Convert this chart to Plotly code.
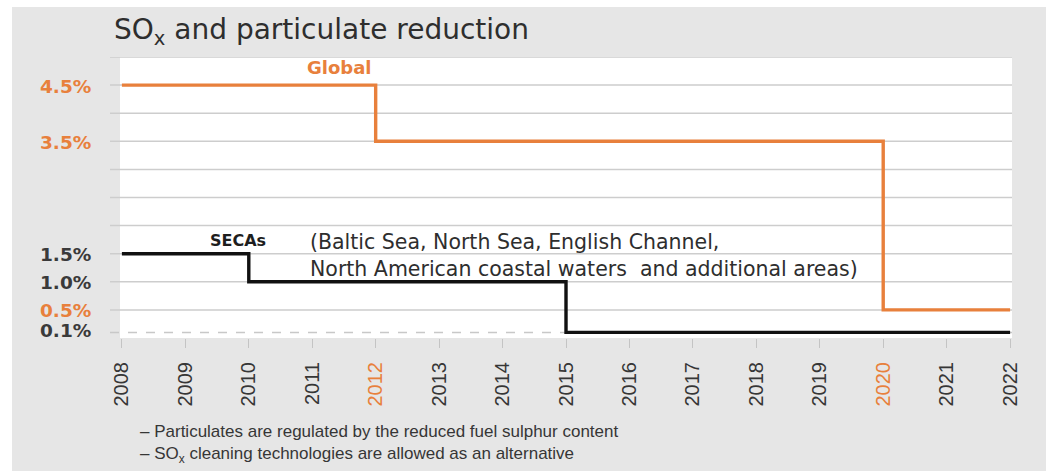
import plotly.graph_objects as go

# Sulphur limits in marine fuel (% m/m)
global_years = [2008, 2012, 2020, 2022]
global_limits = [4.5, 3.5, 0.5, 0.5]
seca_years = [2008, 2010, 2015, 2022]
seca_limits = [1.5, 1.0, 0.1, 0.1]

year_ticks = list(range(2008, 2023))
highlight_years = [2012, 2020]
grid_levels = [0.5, 1.0, 1.5, 2.0, 2.5, 3.0, 3.5, 4.0, 4.5, 5.0]
label_levels = [4.5, 3.5, 1.5, 1.0, 0.5, 0.1]
label_texts = ["4.5%", "3.5%", "1.5%", "1.0%", "0.5%", "0.1%"]
orange_levels = [4.5, 3.5, 0.5]

ORANGE = "#e8803c"
DARK = "#1e1e1e"
GREY_TXT = "#363636"
W, H = 1053, 474
L, R, T, B = 120, 41, 57, 136
PW, PH = W - L - R, H - T - B


def px(x):
    return (x - L) / PW


def py(y):
    return (H - B - y) / PH


fig = go.Figure()

fig.add_trace(go.Scatter(
    x=seca_years, y=seca_limits, mode="lines", line_shape="hv",
    line=dict(color="#111111", width=3.4), hoverinfo="skip", showlegend=False))
fig.add_trace(go.Scatter(
    x=global_years, y=global_limits, mode="lines", line_shape="hv",
    line=dict(color=ORANGE, width=3.4), hoverinfo="skip", showlegend=False))

# grey card behind everything, white plotting field on top of it
shapes = [
    dict(type="rect", xref="paper", yref="paper", x0=px(12), x1=px(1046),
         y0=py(471), y1=py(7), fillcolor="#e6e6e6", line_width=0, layer="below"),
    dict(type="rect", xref="paper", yref="paper", x0=0, x1=1, y0=0, y1=1,
         fillcolor="white", line_width=0, layer="below"),
]
for g in grid_levels:
    shapes.append(dict(type="line", xref="paper", yref="y", x0=px(110), x1=1,
                       y0=g, y1=g, line=dict(color="#cdcdcd", width=1.5), layer="below"))
shapes.append(dict(type="line", xref="paper", yref="y", x0=px(110), x1=1,
                   y0=0.1, y1=0.1, line=dict(color="#c8c8c8", width=1.5, dash="dash"),
                   layer="below"))

annotations = []
for v, t in zip(label_levels, label_texts):
    annotations.append(dict(
        xref="paper", yref="y", x=px(93), y=v, xanchor="right", yanchor="middle",
        yshift=-1 if v != 0.1 else 2,
        text=f"<b>{t}</b>", showarrow=False,
        font=dict(family="DejaVu Sans", size=18.5,
                  color=ORANGE if v in orange_levels else "#3a3a3a")))

annotations += [
    dict(xref="paper", yref="paper", x=px(112), y=py(31), xanchor="left", yanchor="middle",
         text="SO<sub>x</sub> and particulate reduction", showarrow=False,
         font=dict(family="DejaVu Sans", size=28, color="#2e2e2e")),
    dict(xref="x", yref="y", x=2012, y=4.5, xanchor="right", yanchor="bottom",
         xshift=-2, yshift=5, text="<b>Global</b>", showarrow=False,
         font=dict(family="DejaVu Sans", size=18, color=ORANGE)),
    dict(xref="x", yref="y", x=2009.35, y=1.5, xanchor="left", yanchor="bottom",
         yshift=2, text="<b>SECAs</b>", showarrow=False,
         font=dict(family="DejaVu Sans", size=16, color=DARK)),
    dict(xref="x", yref="y", x=2010.93, y=1.47, xanchor="left", yanchor="middle",
         align="left", showarrow=False,
         text="(Baltic Sea, North Sea, English Channel,<br>"
              "North American coastal waters  and additional areas)",
         font=dict(family="DejaVu Sans", size=20.5, color="#2e2e2e")),
    dict(xref="paper", yref="paper", x=px(138), y=py(444), xanchor="left", yanchor="middle",
         align="left", showarrow=False,
         text="– Particulates are regulated by the reduced fuel sulphur content<br>"
              "– SO<sub>x</sub> cleaning technologies are allowed as an alternative",
         font=dict(family="Liberation Sans", size=17, color=GREY_TXT)),
]

tick_text = [
    f"<span style='color:{ORANGE}'>{y}</span>" if y in highlight_years else str(y)
    for y in year_ticks
]

fig.update_layout(
    width=W, height=H,
    margin=dict(l=L, r=R, t=T, b=B, pad=0),
    paper_bgcolor="white", plot_bgcolor="white",
    shapes=shapes, annotations=annotations,
    xaxis=dict(range=[2007.97, 2022.03], tickvals=year_ticks, ticktext=tick_text,
               tickangle=-90, ticks="outside", ticklen=9, tickcolor="#c4c4c4",
               ticklabelstandoff=6,
               tickfont=dict(family="Liberation Sans", size=20, color=GREY_TXT),
               showgrid=False, zeroline=False, showline=False, fixedrange=True),
    yaxis=dict(range=[0, 5.0], showticklabels=False, showgrid=False,
               zeroline=False, showline=False, fixedrange=True),
)

fig.write_html("out.html")
